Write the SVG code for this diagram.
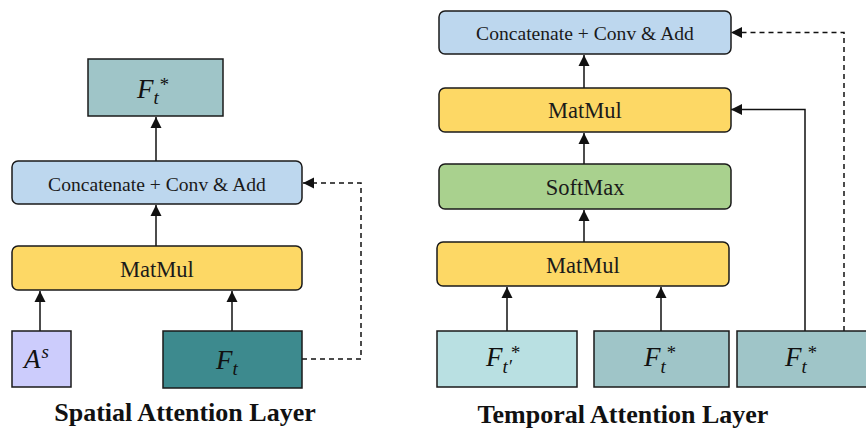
<svg xmlns="http://www.w3.org/2000/svg" width="866" height="435" viewBox="0 0 866 435">
<style>
.box{stroke:#1a1a1a;stroke-width:1.5}
.lbl{font-family:"Liberation Serif",serif;fill:#1a1a1a;text-anchor:middle}
.m{font-family:"Liberation Serif",serif;font-style:italic;fill:#111;font-size:27px}
.s{font-size:19px}
.title{font-family:"Liberation Serif",serif;font-weight:bold;font-size:26px;fill:#111;text-anchor:middle}
.c{fill:none;stroke:#111;stroke-width:1.5}
.d{fill:none;stroke:#111;stroke-width:1.5;stroke-dasharray:5 4}
</style>
<defs>
<marker id="ah" markerUnits="userSpaceOnUse" markerWidth="12" markerHeight="12" refX="11" refY="6" orient="auto">
<path d="M0,0.5 L11,6 L0,11.5 z" fill="#111"/>
</marker>
</defs>
<rect width="866" height="435" fill="#fff"/>

<g id="connectors">
<line class="c" x1="156" y1="161" x2="156" y2="117" marker-end="url(#ah)"/>
<line class="c" x1="156" y1="246" x2="156" y2="205" marker-end="url(#ah)"/>
<line class="c" x1="40" y1="331" x2="40" y2="291" marker-end="url(#ah)"/>
<line class="c" x1="232" y1="331" x2="232" y2="291" marker-end="url(#ah)"/>
<polyline class="d" points="302,359 361,359 361,183 303,183" marker-end="url(#ah)"/>

<line class="c" x1="584" y1="88" x2="584" y2="55" marker-end="url(#ah)"/>
<line class="c" x1="584" y1="164" x2="584" y2="133" marker-end="url(#ah)"/>
<line class="c" x1="584" y1="242" x2="584" y2="210" marker-end="url(#ah)"/>
<line class="c" x1="507" y1="331" x2="507" y2="287" marker-end="url(#ah)"/>
<line class="c" x1="661" y1="331" x2="661" y2="287" marker-end="url(#ah)"/>
<polyline class="c" points="805,331 805,109.5 731,109.5" marker-end="url(#ah)"/>
<polyline class="d" points="844,331 844,32.5 731,32.5" marker-end="url(#ah)"/>
</g>

<g id="spatial-out">
<rect class="box" x="88" y="59" width="135" height="57" fill="#9fc5c8"/>
<text class="m" x="137" y="98">F<tspan class="s" dy="6">t</tspan><tspan class="s" dy="-13">*</tspan></text>
</g>
<g id="spatial-concat">
<rect class="box" x="12" y="161" width="290" height="43" rx="6" fill="#bdd7ee"/>
<text class="lbl" x="157" y="191" font-size="19.6">Concatenate + Conv &amp; Add</text>
</g>
<g id="spatial-matmul">
<rect class="box" x="12" y="246" width="290" height="44" rx="6" fill="#fdd865"/>
<text class="lbl" x="157" y="277" font-size="22.5">MatMul</text>
</g>
<g id="spatial-as">
<rect class="box" x="12" y="331" width="59" height="56" fill="#ccccfc"/>
<text class="m" x="24" y="368">A<tspan class="s" dx="1" dy="-10">s</tspan></text>
</g>
<g id="spatial-ft">
<rect class="box" x="163" y="331" width="139" height="57" fill="#3d8a8e"/>
<text class="m" x="216" y="369">F<tspan class="s" dy="6">t</tspan></text>
</g>
<text class="title" x="185" y="421">Spatial Attention Layer</text>

<g id="temporal-concat">
<rect class="box" x="439" y="11" width="292" height="43" rx="6" fill="#bdd7ee"/>
<text class="lbl" x="585" y="40" font-size="19.6">Concatenate + Conv &amp; Add</text>
</g>
<g id="temporal-matmul2">
<rect class="box" x="439" y="88" width="292" height="44" rx="6" fill="#fdd865"/>
<text class="lbl" x="585" y="118" font-size="22.5">MatMul</text>
</g>
<g id="temporal-softmax">
<rect class="box" x="439" y="164" width="292" height="45" rx="6" fill="#a9d18e"/>
<text class="lbl" x="585" y="195" font-size="22.5">SoftMax</text>
</g>
<g id="temporal-matmul1">
<rect class="box" x="437" y="242" width="292" height="44" rx="6" fill="#fdd865"/>
<text class="lbl" x="583" y="273" font-size="22.5">MatMul</text>
</g>
<g id="temporal-ftp">
<rect class="box" x="437" y="331" width="140" height="56" fill="#b9e0e2"/>
<text class="m" x="486" y="366">F<tspan class="s" dy="7">t′</tspan><tspan class="s" dx="-2" dy="-14">*</tspan></text>
</g>
<g id="temporal-ft1">
<rect class="box" x="594" y="331" width="135" height="56" fill="#9fc5c8"/>
<text class="m" x="644" y="366">F<tspan class="s" dy="7">t</tspan><tspan class="s" dy="-14">*</tspan></text>
</g>
<g id="temporal-ft2">
<rect class="box" x="737" y="331" width="135" height="56" fill="#9fc5c8"/>
<text class="m" x="785" y="366">F<tspan class="s" dy="7">t</tspan><tspan class="s" dy="-14">*</tspan></text>
</g>
<text class="title" x="623" y="423">Temporal Attention Layer</text>
</svg>
